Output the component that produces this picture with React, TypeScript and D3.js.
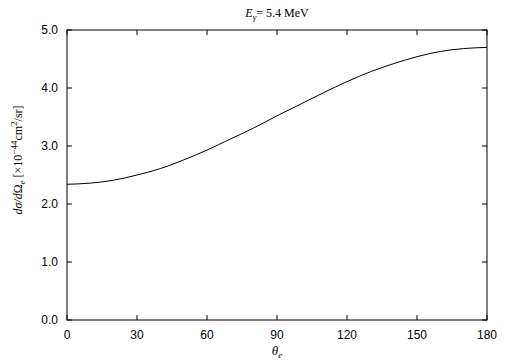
import * as d3 from 'd3';

// angle of the electron (deg) and differential cross section (×10^-44 cm²/sr)
const thetaValues = [0, 10, 20, 30, 40, 50, 60, 70, 80, 90, 100, 110, 120, 130, 140, 150, 160, 170, 180];
const sigmaValues = [2.34, 2.36, 2.41, 2.5, 2.61, 2.76, 2.93, 3.12, 3.31, 3.52, 3.72, 3.92, 4.11, 4.28, 4.42, 4.54, 4.63, 4.68, 4.7];
const xTicks = [0, 30, 60, 90, 120, 150, 180];
const yTicks = [0, 1, 2, 3, 4, 5];

export default function App() {
  const width = 505;
  const height = 361;
  const margin = { top: 30, right: 18, bottom: 41, left: 67 };
  const innerW = width - margin.left - margin.right;
  const innerH = height - margin.top - margin.bottom;

  const x = d3.scaleLinear().domain([0, 180]).range([0, innerW]);
  const y = d3.scaleLinear().domain([0, 5]).range([innerH, 0]);

  const line = d3
    .line<number>()
    .x((_, i) => x(thetaValues[i]))
    .y((d) => y(d))
    .curve(d3.curveMonotoneX);

  const tickLen = 5;
  const sans = '"Liberation Sans", Arial, sans-serif';
  const serif = '"Liberation Serif", "Times New Roman", serif';

  return (
    <svg
      width={width}
      height={height}
      style={{ position: 'absolute', left: 0, top: 0, background: '#fff' }}
    >
      <text x={277} y={17} textAnchor="middle" fontFamily={serif} fontSize={12}>
        <tspan fontStyle="italic">E</tspan>
        <tspan fontStyle="italic" fontSize={9} dy={3}>γ</tspan>
        <tspan dy={-3}>= 5.4 MeV</tspan>
      </text>

      <g transform={`translate(${margin.left},${margin.top})`}>
        {xTicks.map((t) => (
          <g key={`x${t}`}>
            <line x1={x(t)} x2={x(t)} y1={innerH} y2={innerH - tickLen} stroke="#000" />
            <line x1={x(t)} x2={x(t)} y1={0} y2={tickLen} stroke="#000" />
            <text x={x(t)} y={innerH + 19} textAnchor="middle" fontFamily={sans} fontSize={12}>
              {t}
            </text>
          </g>
        ))}
        {yTicks.map((t) => (
          <g key={`y${t}`}>
            <line x1={0} x2={tickLen} y1={y(t)} y2={y(t)} stroke="#000" />
            <line x1={innerW} x2={innerW - tickLen} y1={y(t)} y2={y(t)} stroke="#000" />
            <text x={-9} y={y(t) + 4} textAnchor="end" fontFamily={sans} fontSize={12}>
              {t.toFixed(1)}
            </text>
          </g>
        ))}

        <path d={line(sigmaValues) ?? ''} fill="none" stroke="#000" strokeWidth={1} />
        <rect x={0} y={0} width={innerW} height={innerH} fill="none" stroke="#000" strokeWidth={1} />

        <text x={innerW / 2} y={innerH + 35} textAnchor="middle" fontFamily={serif} fontSize={13}>
          <tspan fontStyle="italic">θ</tspan>
          <tspan fontStyle="italic" fontSize={9} dy={3}>e</tspan>
        </text>
      </g>

      <text
        transform={`translate(22,${margin.top + innerH / 2 - 15}) rotate(-90)`}
        textAnchor="middle"
        fontFamily={serif}
        fontSize={12}
      >
        <tspan fontStyle="italic">dσ/d</tspan>
        <tspan>Ω</tspan>
        <tspan fontStyle="italic" fontSize={9} dy={3}>e</tspan>
        <tspan dy={-3}> [×10</tspan>
        <tspan fontSize={9} dy={-5}>−44</tspan>
        <tspan dy={5}>cm</tspan>
        <tspan fontSize={9} dy={-5}>2</tspan>
        <tspan dy={5}>/sr]</tspan>
      </text>
    </svg>
  );
}
